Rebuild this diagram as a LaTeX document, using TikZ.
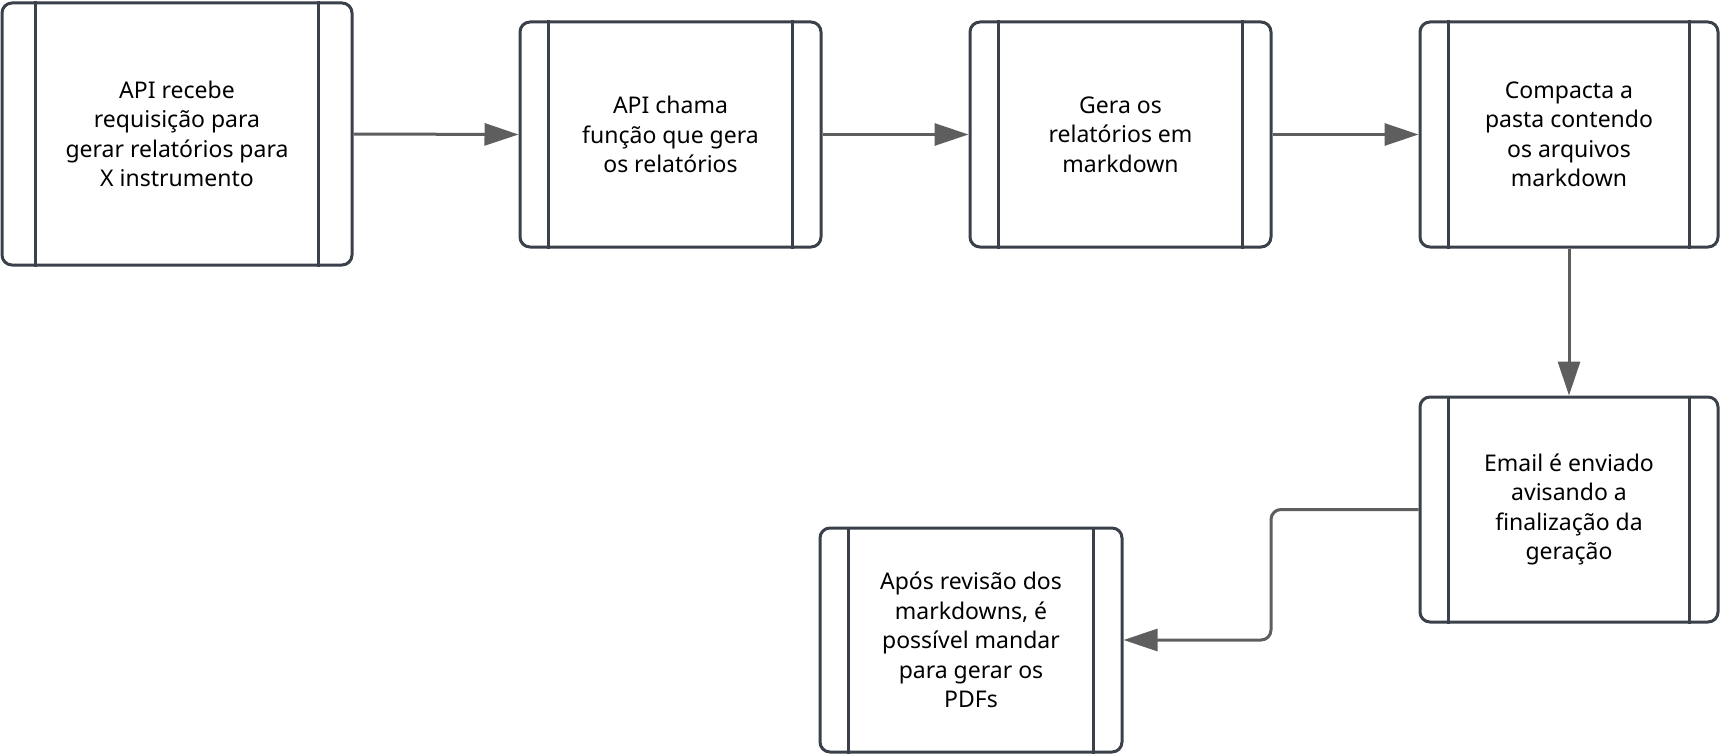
\documentclass[tikz,border=0pt]{standalone}
\usepackage{fontspec}
\setmainfont{Noto Sans}
\usetikzlibrary{arrows.meta,calc}
\definecolor{boxc}{HTML}{3A414A}
\definecolor{arrc}{HTML}{5E5E5E}
\newcommand\mybox[7]{% name, cx, cy, w, h, strip, text
  \node[pbox, minimum width=#4pt, minimum height=#5pt] (#1) at (#2pt,-#3pt) {#7};
  \draw[boxline] ([xshift=#6pt]#1.north west) -- ([xshift=#6pt]#1.south west);
  \draw[boxline] ([xshift=-#6pt]#1.north east) -- ([xshift=-#6pt]#1.south east);
}
\begin{document}
\begin{tikzpicture}[
  pbox/.style={draw=boxc, line width=3pt, rounded corners=10pt, fill=white, align=center,
    inner sep=0pt, font=\fontsize{23}{29.5}\selectfont, text=black},
  boxline/.style={draw=boxc, line width=3pt},
  conn/.style={draw=arrc, line width=3pt, -{Triangle[length=34pt,width=22pt]}}
]
\useasboundingbox (0,0) rectangle (1721pt,-754pt);
\mybox{b1}{177}{134}{350}{262}{35}{API recebe\\requisição para\\gerar relatórios para\\X instrumento}
\mybox{b2}{670.5}{134.5}{301}{225}{30}{API chama\\função que gera\\os relatórios}
\mybox{b3}{1120.5}{134.5}{301}{225}{30}{Gera os\\relatórios em\\markdown}
\mybox{b4}{1569}{134.5}{298}{225}{30}{Compacta a\\pasta contendo\\os arquivos\\markdown}
\mybox{b5}{1569}{509.5}{298}{225}{30}{Email é enviado\\avisando a\\finalização da\\geração}
\mybox{b6}{971}{640}{302}{224}{30}{Após revisão dos\\markdowns, é\\possível mandar\\para gerar os\\PDFs}
\draw[conn] (b1.east) -- (b2.west);
\draw[conn] (b2.east) -- (b3.west);
\draw[conn] (b3.east) -- (b4.west);
\draw[conn] (b4.south) -- (b5.north);
\draw[conn, rounded corners=10pt] (b5.west) -| ($(b5.west)!0.5!(b6.east)$) |- (b6.east);
\end{tikzpicture}
\end{document}
